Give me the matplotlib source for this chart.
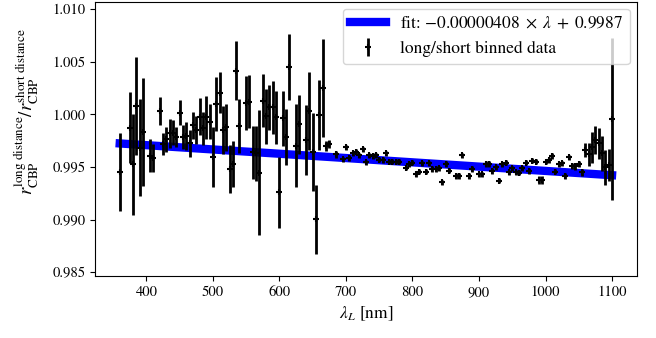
import numpy as np
import matplotlib
matplotlib.use("Agg")
import matplotlib.pyplot as plt

plt.rcParams['font.family'] = 'STIXGeneral'
plt.rcParams['mathtext.fontset'] = 'stix'
plt.rcParams['font.size'] = 10.5

# binned ratio long/short distance
wavelength = [360, 375, 380, 385, 390, 395, 405, 410, 420, 425, 430, 435, 440, 445,
              450, 455, 460, 465, 470, 475, 480, 485, 490, 495, 500, 505, 510, 515,
              520, 525, 530, 535, 540, 550, 555, 560, 565, 570, 575, 580, 585, 590,
              595, 600, 605, 610, 615, 625, 630, 640, 645, 650, 655, 660, 665, 670,
              675, 685, 695, 700, 705, 710, 715, 720, 725, 730, 735, 740, 745, 750,
              755, 760, 765, 770, 775, 780, 790, 795, 800, 805, 810, 815, 820, 825,
              830, 835, 840, 845, 850, 855, 865, 870, 875, 885, 890, 900, 905, 910,
              915, 920, 925, 930, 935, 940, 945, 950, 955, 960, 965, 970, 975, 980,
              985, 990, 995, 1000, 1005, 1010, 1015, 1020, 1025, 1030, 1035, 1040,
              1045, 1050, 1055, 1060, 1065, 1070, 1075, 1080, 1085, 1090, 1095, 1100]
ratio = [0.99454, 0.99872, 0.99524, 1.00078, 0.99682, 0.99828, 0.99606, 0.99587,
         1.00030, 0.99717, 0.99761, 0.99818, 0.99825, 0.99787, 1.00015, 0.99780,
         0.99793, 0.99723, 0.99897, 0.99850, 0.99976, 0.99866, 0.99970, 0.99929,
         0.99590, 1.00097, 1.00205, 0.99850, 0.99875, 0.99476, 0.99527, 1.00414,
         0.99888, 1.00110, 1.00119, 0.99638, 0.99628, 0.99444, 1.00129, 0.99983,
         1.00065, 1.00065, 0.99970, 0.99257, 0.99961, 0.99786, 1.00446, 0.99701,
         0.99904, 0.99755, 1.00033, 0.99644, 0.99004, 0.99992, 1.00252, 0.99698,
         0.99717, 0.99619, 0.99574, 0.99685, 0.99584, 0.99628, 0.99644, 0.99612,
         0.99668, 0.99543, 0.99612, 0.99603, 0.99612, 0.99568, 0.99565, 0.99628,
         0.99549, 0.99549, 0.99549, 0.99549, 0.99492, 0.99523, 0.99542, 0.99432,
         0.99454, 0.99533, 0.99454, 0.99533, 0.99479, 0.99479, 0.99486, 0.99352,
         0.99527, 0.99463, 0.99413, 0.99413, 0.99612, 0.99413, 0.99479, 0.99428,
         0.99428, 0.99527, 0.99527, 0.99460, 0.99495, 0.99368, 0.99523, 0.99542,
         0.99448, 0.99486, 0.99448, 0.99444, 0.99486, 0.99539, 0.99460, 0.99558,
         0.99549, 0.99375, 0.99375, 0.99549, 0.99565, 0.99603, 0.99454, 0.99524,
         0.99533, 0.99413, 0.99590, 0.99508, 0.99505, 0.99530, 0.99448, 0.99660,
         0.99621, 0.99685, 0.99755, 0.99723, 0.99628, 0.99495, 0.99520, 0.99951]
ratio_err = [0.00371, 0.00339, 0.00480, 0.00467, 0.00460, 0.00513, 0.00158, 0.00131,
             0.00130, 0.00101, 0.00122, 0.00135, 0.00119, 0.00095, 0.00119, 0.00114,
             0.00135, 0.00127, 0.00127, 0.00135, 0.00177, 0.00158, 0.00203, 0.00166,
             0.00285, 0.00258, 0.00193, 0.00230, 0.00222, 0.00228, 0.00217, 0.00282,
             0.00257, 0.00257, 0.00253, 0.00249, 0.00261, 0.00594, 0.00250, 0.00261,
             0.00215, 0.00249, 0.00253, 0.00341, 0.00261, 0.00269, 0.00314, 0.00393,
             0.00282, 0.00333, 0.00368, 0.00372, 0.00328, 0.00330, 0.00463, 0.00048,
             0.00040, 0.00030, 0.00025, 0.00025, 0.00025, 0.00025, 0.00025, 0.00025,
             0.00025, 0.00025, 0.00025, 0.00025, 0.00025, 0.00025, 0.00025, 0.00025,
             0.00025, 0.00025, 0.00025, 0.00025, 0.00025, 0.00025, 0.00025, 0.00025,
             0.00025, 0.00025, 0.00025, 0.00025, 0.00025, 0.00025, 0.00025, 0.00025,
             0.00025, 0.00025, 0.00025, 0.00025, 0.00025, 0.00025, 0.00025, 0.00025,
             0.00025, 0.00025, 0.00025, 0.00025, 0.00025, 0.00025, 0.00025, 0.00025,
             0.00025, 0.00025, 0.00025, 0.00025, 0.00025, 0.00025, 0.00025, 0.00025,
             0.00025, 0.00040, 0.00040, 0.00025, 0.00025, 0.00025, 0.00025, 0.00025,
             0.00025, 0.00025, 0.00025, 0.00025, 0.00030, 0.00030, 0.00030, 0.00070,
             0.00110, 0.00150, 0.00130, 0.00150, 0.00170, 0.00170, 0.00150, 0.00770]

# linear fit parameters
slope = -0.00000408
intercept = 0.9987


def main():
    lam = np.array(wavelength)
    fig = plt.figure(figsize=(6.56, 3.38), dpi=100)
    ax = fig.add_axes([0.145, 0.183, 0.8255, 0.811])

    xfit = np.array([lam.min(), lam.max()])
    ax.plot(xfit, slope * xfit + intercept, color='blue', lw=6,
            label=r'fit: $-0.00000408\;\times\;\lambda\;+\;0.9987$')
    ax.errorbar(lam, ratio, yerr=ratio_err, fmt='+', color='k', ms=5, mew=1.5,
                elinewidth=2, label='long/short binned data')

    ax.set_ylim(0.98462, 1.01067)
    ax.set_xlabel(r'$\lambda_L$ [nm]', fontsize=12.5)
    ax.set_ylabel(r'$r_{\rm CBP}^{\rm long\ distance} / r_{\rm CBP}^{\rm short\ distance}$',
                  fontsize=13.5)
    ax.yaxis.set_label_coords(-0.1, 0.6)
    ax.legend(loc='upper right', fontsize=12.5, handlelength=2.1,
              borderaxespad=0.4)

    fig.savefig('out.png', dpi=100)


if __name__ == '__main__':
    main()
